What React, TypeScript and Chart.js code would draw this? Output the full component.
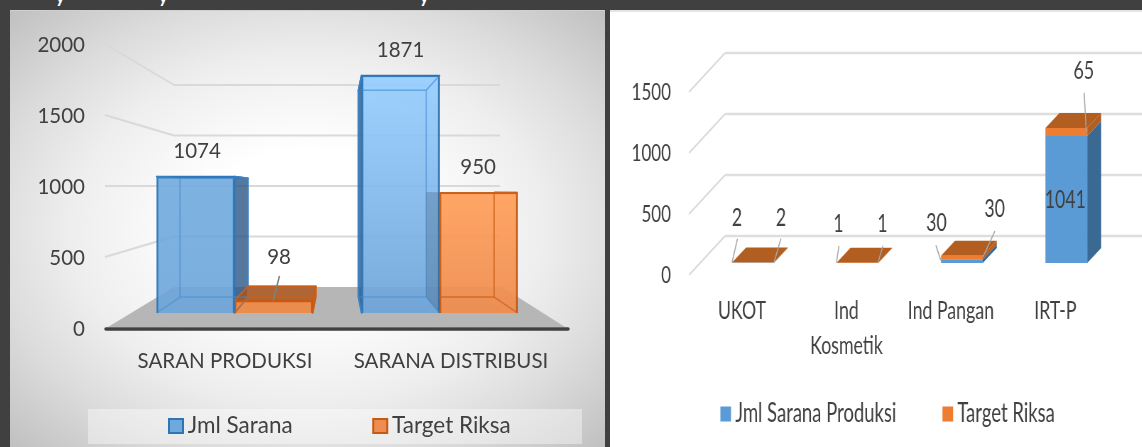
import React, { useEffect, useRef } from "react";
import { Chart, registerables } from "chart.js";

Chart.register(...registerables);
Chart.defaults.font.family = "Lato";

// ---- data ----
const leftCategories = ["SARAN PRODUKSI", "SARANA DISTRIBUSI"];
const leftSarana = [1074, 1871];
const leftTarget = [98, 950];
const leftSeriesNames = ["Jml Sarana", "Target Riksa"];
const leftTicks = [0, 500, 1000, 1500, 2000];

const rightCategories = ["UKOT", ["Ind", "Kosmetik"], "Ind Pangan", "IRT-P"];
const rightSarana = [2, 1, 30, 1041];
const rightTarget = [2, 1, 30, 65];
const rightSeriesNames = ["Jml Sarana Produksi", "Target Riksa"];

// ---- label placement relative to each bar's top centre (image px) ----
type Lab = { dx: number; dy: number; leader?: number[] };
const leftLabelPlacement: Lab[][] = [
  [{ dx: 1.5, dy: -25 }, { dx: 0, dy: -25 }],
  [{ dx: 5.5, dy: -43, leader: [5.9, -24.6, -0.5, 0] }, { dx: -0.5, dy: -25 }],
];
const rightLabelPlacement: Lab[][] = [
  [
    { dx: -16, dy: -45, leader: [-15.5, -24, -21, 0] },
    { dx: -19, dy: -39, leader: [-18.5, -17, -21, 0] },
    { dx: -25.5, dy: -36.6, leader: [-26, -14, -21, 1] },
    { dx: -1, dy: 64 },
  ],
  [
    { dx: 28, dy: -45, leader: [28, -24, 21, 0] },
    { dx: 25, dy: -39, leader: [25.5, -17, 20.5, 0] },
    { dx: 32.7, dy: -46.6, leader: [33, -24.6, 21, 1.4] },
    { dx: 17.4, dy: -57.3, leader: [17.8, -35.3, 20, 4] },
  ],
];

const TEXT = "#404040";
const GRID = "#d9d9d9";

function rangeFor(zeroPx: number, k: number, top: number, bottom: number) {
  return { min: (zeroPx - bottom) / k, max: (zeroPx - top) / k };
}
function poly(ctx: any, pts: number[][], fill?: string, stroke?: string, lw = 1) {
  ctx.beginPath();
  pts.forEach((p, i) => (i ? ctx.lineTo(p[0], p[1]) : ctx.moveTo(p[0], p[1])));
  ctx.closePath();
  ctx.lineJoin = "round";
  if (fill) { ctx.fillStyle = fill; ctx.fill(); }
  if (stroke) { ctx.strokeStyle = stroke; ctx.lineWidth = lw; ctx.stroke(); }
}
function line(ctx: any, a: number[], b: number[], color: string, lw: number, cap = "butt") {
  ctx.beginPath();
  ctx.moveTo(a[0], a[1]);
  ctx.lineTo(b[0], b[1]);
  ctx.strokeStyle = color;
  ctx.lineWidth = lw;
  ctx.lineCap = cap;
  ctx.stroke();
  ctx.lineCap = "butt";
}
function placeLegend(chart: any, x: number, centerY: number, fs: number, pad: number) {
  const l = chart.legend;
  l.left = x - pad;
  l.right = chart.width;
  l.top = centerY - fs / 2 - pad;
  l.bottom = centerY + fs;
  l.width = l.right - l.left;
  l.height = l.bottom - l.top;
}

// ---------------- LEFT CHART ----------------
function makeLeft(canvas: HTMLCanvasElement) {
  const ox = 10, oy = 0, W = 595, H = 447;
  const X = (x: number) => x - ox;
  const Y = (y: number) => y - oy;
  const T = Y(45), B = Y(329);
  const area = [X(112), X(564)];
  const groupStep = 205;
  const xMin = -(234.6 - 112) / groupStep;
  const xMax = xMin + (area[1] - area[0]) / groupStep;
  const yBars = rangeFor(Y(313), 0.127, T, B);
  const yBack = rangeFor(Y(287), 0.101, T, B);
  const vp = [X(337), Y(190)], t = 0.13;
  const proj = (p: number[]) => [p[0] + (vp[0] - p[0]) * t, p[1] + (vp[1] - p[1]) * t];

  const gradStops = [
    [["rgba(112,170,222,.9)", "rgba(108,165,218,.9)"], ["rgba(152,206,255,.92)", "rgba(108,164,216,.92)"]],
    [["rgba(238,138,74,.95)", "rgba(238,138,74,.95)"], ["rgba(255,160,92,.94)", "rgba(238,140,78,.94)"]],
  ];
  const fill = (ds: number) => (c: any) => {
    const sc = c.chart.scales.yBars;
    if (!sc || c.raw == null || c.dataIndex == null) return gradStops[ds][0][0];
    const g = c.chart.ctx.createLinearGradient(0, sc.getPixelForValue(c.raw.y), 0, sc.getPixelForValue(0));
    g.addColorStop(0, gradStops[ds][c.dataIndex][0]);
    g.addColorStop(1, gradStops[ds][c.dataIndex][1]);
    return g;
  };
  const box = (el: any) => {
    const L = el.x - el.width / 2, R = el.x + el.width / 2, Tp = el.y, Bt = el.base;
    const f = { tl: [L, Tp], tr: [R, Tp], bl: [L, Bt], br: [R, Bt] };
    return { f, b: { tl: proj(f.tl), tr: proj(f.tr), bl: proj(f.bl), br: proj(f.br) } };
  };
  const faceTop = ["rgba(150,205,255,.35)", "rgba(172,84,26,.82)"];
  const faceSide = ["rgba(42,88,134,.8)", "rgba(190,90,25,.85)"];
  const edge = ["rgba(46,117,182,.95)", "rgba(197,90,17,.95)"];
  const wire = ["rgba(70,140,205,.55)", "rgba(205,95,25,.72)"];

  const plugin = {
    id: "left3d",
    beforeDraw(chart: any) {
      placeLegend(chart, X(176) - 0.5, Y(426), 22.5, 87);
    },
    beforeDatasetsDraw(chart: any) {
      const ctx = chart.ctx;
      const f = chart.scales.y, b = chart.scales.yBack;
      ctx.save();
      leftTicks.forEach((v) => {
        if (!v) return;
        const p = [X(174), b.getPixelForValue(v)];
        line(ctx, [X(105), f.getPixelForValue(v) - 1], p, GRID, 2);
        line(ctx, p, [X(500), p[1]], GRID, 2);
      });
      const by = b.getPixelForValue(0);
      poly(ctx, [[X(108), Y(327)], [X(174), by], [X(502), by], [X(565), Y(327)]], "#b6b6b6");
      [0, 1].forEach((ds) => {
        chart.getDatasetMeta(ds).data.forEach((el: any) => {
          const { f: q, b: k } = box(el);
          const hiddenLeft = ds === 1 && k.tl[0] < q.tl[0];
          if (!hiddenLeft) poly(ctx, [q.tl, q.tr, k.tr, k.tl], faceTop[ds], edge[ds], 1.5);
          if (k.tr[0] > q.tr[0]) poly(ctx, [q.tr, q.br, k.br, k.tr], faceSide[ds], edge[ds], 1.5);
          if (k.tl[0] < q.tl[0] && ds === 0) poly(ctx, [q.tl, q.bl, k.bl, k.tl], faceSide[ds], edge[ds], 1.5);
        });
      });
      ctx.restore();
    },
    afterDatasetsDraw(chart: any) {
      const ctx = chart.ctx;
      ctx.save();
      [0, 1].forEach((ds) => {
        chart.getDatasetMeta(ds).data.forEach((el: any, i: number) => {
          const { f: q, b: k } = box(el);
          const hiddenLeft = ds === 1 && k.tl[0] < q.tl[0];
          if (hiddenLeft) {
            poly(ctx, [q.tl, q.bl, k.bl, k.tl], "rgba(60,90,120,.3)");
            line(ctx, [q.tl[0], k.bl[1]], k.br, wire[ds], 1.5);
            line(ctx, k.tr, k.br, wire[ds], 1.5);
          } else {
            poly(ctx, [k.tl, k.tr, k.br, k.bl], undefined, wire[ds], 1.5);
            line(ctx, q.tl, k.tl, wire[ds], 1.5);
            line(ctx, q.bl, k.bl, wire[ds], 1.5);
          }
          line(ctx, q.tr, k.tr, wire[ds], 1.5);
          line(ctx, q.br, k.br, wire[ds], 1.5);
          const pl = leftLabelPlacement[ds][i];
          if (pl.leader) {
            const [a, c, d, e] = pl.leader;
            line(ctx, [el.x + a, el.y + c], [el.x + d, el.y + e], "#808080", 1.5);
          }
          ctx.font = "20.5px Lato";
          ctx.fillStyle = TEXT;
          ctx.textAlign = "center";
          ctx.textBaseline = "middle";
          ctx.fillText(String((ds ? leftTarget : leftSarana)[i]), el.x + pl.dx, el.y + pl.dy);
        });
      });
      line(ctx, [X(106), Y(329)], [X(568), Y(329)], "#404040", 3.5, "round");
      ctx.restore();
    },
  };

  return new Chart(canvas, {
    type: "bar",
    data: {
      labels: leftCategories,
      datasets: [
        {
          label: leftSeriesNames[0],
          data: leftSarana.map((y, x) => ({ x, y })),
          xAxisID: "x", yAxisID: "yBars",
          backgroundColor: fill(0), borderColor: edge[0], borderWidth: 2,
          barThickness: 78,
        },
        {
          label: leftSeriesNames[1],
          data: leftTarget.map((y, x) => ({ x, y })),
          xAxisID: "x", yAxisID: "yBars",
          backgroundColor: fill(1), borderColor: edge[1], borderWidth: 2,
          barThickness: 78,
        },
      ],
    } as any,
    options: {
      responsive: false,
      animation: false,
      layout: { autoPadding: false, padding: { left: 0, top: T, right: W - area[1], bottom: H - B - 60 - 1 } },
      scales: {
        x: { type: "linear", display: false, min: xMin, max: xMax, offset: false },
        yBars: { axis: "y", type: "linear", display: false, min: yBars.min, max: yBars.max },
        yBack: { axis: "y", type: "linear", display: false, min: yBack.min, max: yBack.max },
        xFront: {
          axis: "x", type: "category", position: "bottom", offset: true, labels: leftCategories,
          grid: { display: false }, border: { display: false },
          ticks: { font: { size: 20.5 }, color: TEXT, padding: 12, maxRotation: 0, autoSkip: false },
          afterFit: (s: any) => { s.height = 60; },
        },
        y: {
          type: "linear", position: "left", min: 0, max: 2000,
          grid: { display: false }, border: { display: false },
          ticks: { stepSize: 500, font: { size: 20.5 }, color: TEXT, padding: 19, callback: (v: any) => String(v) },
          afterFit: (s: any) => { s.width = area[0]; },
        },
      },
      plugins: {
        tooltip: { enabled: false },
        legend: {
          position: "bottom", align: "start", maxHeight: 1,
          labels: {
            usePointStyle: true, boxWidth: 1, boxHeight: 14, padding: 87,
            font: { size: 22.5 }, color: TEXT,
            generateLabels: () => leftSeriesNames.map((text, i) => ({
              text, fillStyle: ["#6fa8dc", "#ef8d50"][i], strokeStyle: ["#2e75b6", "#c55a11"][i],
              lineWidth: 2, pointStyle: "rect", hidden: false, datasetIndex: i, fontColor: TEXT,
            })),
          },
        },
      },
    } as any,
    plugins: [plugin],
  } as any);
}

// ---------------- RIGHT CHART ----------------
function makeRight(canvas: HTMLCanvasElement, squeeze: number) {
  const ox = 610, oy = 10, W = 532 / squeeze, H = 437;
  const X = (x: number) => (x - ox) / squeeze;
  const Y = (y: number) => y - oy;
  const T = Y(92), B = Y(275), k = (B - T) / 1500;
  const area = [X(700.75), X(1118.75)];
  const yBars = rangeFor(Y(263), k, T, B);
  const yBack = rangeFor(Y(236), k, T, B);
  const ddx = 14 / squeeze, ddy = -15;
  const sideCol = ["#3a6a94", "#b25e21"];
  const plugin = {
    id: "right3d",
    beforeDraw(chart: any) {
      placeLegend(chart, X(725.7) - 0.5, Y(414), 26, 72);
    },
    beforeDatasetsDraw(chart: any) {
      const ctx = chart.ctx;
      const f = chart.scales.y, b = chart.scales.yBack;
      ctx.save();
      f.ticks.forEach((tk: any) => {
        const p = [X(725), b.getPixelForValue(tk.value)];
        line(ctx, [X(689), f.getPixelForValue(tk.value)], p, GRID, 2);
        line(ctx, p, [W, p[1]], "#dedede", 2.5);
      });
      [0, 1].forEach((ds) => {
        chart.getDatasetMeta(ds).data.forEach((el: any) => {
          const R = el.x + el.width / 2, L = el.x - el.width / 2;
          poly(ctx, [[R, el.y], [R, el.base], [R + ddx, el.base + ddy], [R + ddx, el.y + ddy]], sideCol[ds]);
          if (ds === 1) poly(ctx, [[L, el.y], [R, el.y], [R + ddx, el.y + ddy], [L + ddx, el.y + ddy]], "#b25e21");
        });
      });
      ctx.restore();
    },
    afterDatasetsDraw(chart: any) {
      const ctx = chart.ctx;
      ctx.save();
      [0, 1].forEach((ds) => {
        chart.getDatasetMeta(ds).data.forEach((el: any, i: number) => {
          const pl = rightLabelPlacement[ds][i];
          if (pl.leader) {
            const [a, c, d, e] = pl.leader;
            line(ctx, [el.x + a / squeeze, el.y + c], [el.x + d / squeeze, el.y + e], "#a6a6a6", 1.5);
          }
          ctx.font = "25px Lato";
          ctx.fillStyle = TEXT;
          ctx.textAlign = "center";
          ctx.textBaseline = "middle";
          ctx.fillText(String((ds ? rightTarget : rightSarana)[i]), el.x + pl.dx / squeeze, el.y + pl.dy);
        });
      });
      ctx.restore();
    },
  };
  return new Chart(canvas, {
    type: "bar",
    data: {
      labels: rightCategories,
      datasets: [
        { label: rightSeriesNames[0], data: rightSarana, yAxisID: "yBars", backgroundColor: "#5b9bd5", stack: "s", barPercentage: 0.4, categoryPercentage: 1 },
        { label: rightSeriesNames[1], data: rightTarget, yAxisID: "yBars", backgroundColor: "#ed7d31", stack: "s", barPercentage: 0.4, categoryPercentage: 1 },
      ],
    } as any,
    options: {
      responsive: false,
      animation: false,
      layout: { autoPadding: false, padding: { left: 0, top: T, right: W - area[1], bottom: H - B - 120 - 1 } },
      scales: {
        x: {
          type: "category", position: "bottom", stacked: true,
          grid: { display: false }, border: { display: false },
          ticks: {
            font: { size: 25, lineHeight: 1.4 }, color: TEXT, padding: 10, maxRotation: 0, autoSkip: false,
            labelOffset: -11 / squeeze,
          },
          afterFit: (s: any) => { s.height = 120; },
        },
        yBars: { axis: "y", type: "linear", display: false, stacked: true, min: yBars.min, max: yBars.max },
        yBack: { axis: "y", type: "linear", display: false, min: yBack.min, max: yBack.max },
        y: {
          type: "linear", position: "left", min: 0, max: 1500,
          grid: { display: false }, border: { display: false },
          ticks: { stepSize: 500, font: { size: 24 }, color: TEXT, padding: 29.75 / squeeze - 8, callback: (v: any) => String(v) },
          afterFit: (s: any) => { s.width = area[0]; },
        },
      },
      plugins: {
        tooltip: { enabled: false },
        legend: {
          position: "bottom", align: "start", maxHeight: 1,
          labels: {
            usePointStyle: true, boxWidth: 1, boxHeight: 15, padding: 72,
            font: { size: 26 }, color: TEXT,
            generateLabels: () => rightSeriesNames.map((text, i) => ({
              text, fillStyle: ["#5b9bd5", "#ed7d31"][i], strokeStyle: "transparent",
              lineWidth: 0, pointStyle: "rect", hidden: false, datasetIndex: i, fontColor: TEXT,
            })),
          },
        },
      },
    } as any,
    plugins: [plugin],
  } as any);
}

const SQUEEZE = 0.71;

export default function App() {
  const leftRef = useRef<HTMLCanvasElement>(null);
  const rightRef = useRef<HTMLCanvasElement>(null);
  useEffect(() => {
    const a = makeLeft(leftRef.current!);
    const b = makeRight(rightRef.current!, SQUEEZE);
    return () => { a.destroy(); b.destroy(); };
  }, []);
  return (
    <div style={{ position: "fixed", left: 0, top: 0, width: 1142, height: 447, background: "#404040", overflow: "hidden" }}>
      <div style={{ position: "absolute", left: 0, top: 0, width: 620, height: 6, overflow: "hidden", color: "#fff", fontFamily: "Lato", fontSize: 24, lineHeight: "24px" }}>
        {[54, 157, 418].map((x) => (
          <span key={x} style={{ position: "absolute", left: x, top: -18 }}>y</span>
        ))}
      </div>
      <div style={{ position: "absolute", left: 10, top: 10, width: 595, height: 437, background: "radial-gradient(ellipse 72% 72% at 50% 50%, #ffffff 25%, #eeeeee 55%, #dcdcdc 74%, #bebebe 100%)", borderTop: "1px solid #d0d0d0", boxSizing: "border-box" }} />
      <div style={{ position: "absolute", left: 88, top: 409, width: 494, height: 35, background: "rgba(255,255,255,.4)" }} />
      <canvas ref={leftRef} width={595} height={447} style={{ position: "absolute", left: 10, top: 0, width: 595, height: 447, filter: "blur(0.4px)" }} />
      <div style={{ position: "absolute", left: 610, top: 10, width: 532, height: 437, background: "#fff", borderTop: "2px solid #e4e4e4", boxSizing: "border-box" }} />
      <canvas ref={rightRef} width={Math.round(532 / SQUEEZE)} height={437} style={{ position: "absolute", left: 610, top: 10, width: Math.round(532 / SQUEEZE), height: 437, transform: `scaleX(${SQUEEZE})`, transformOrigin: "0 0", filter: "blur(0.4px)" }} />
    </div>
  );
}
